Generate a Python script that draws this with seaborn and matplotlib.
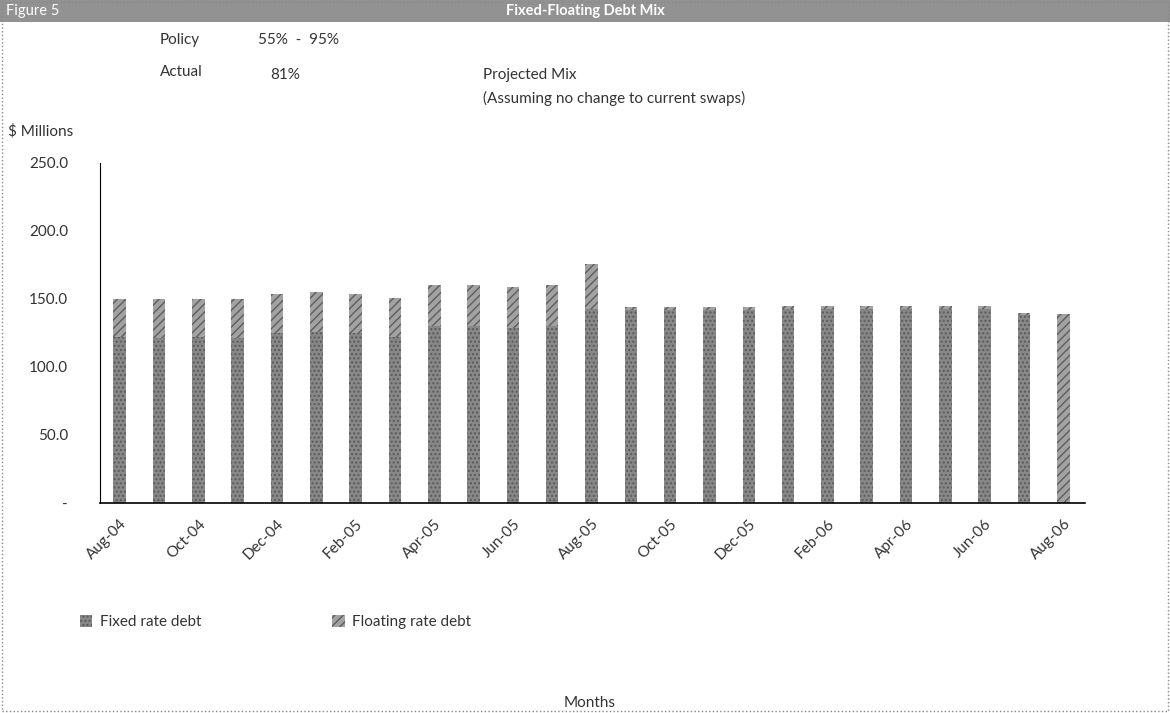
import matplotlib
matplotlib.use("Agg")
import matplotlib.pyplot as plt
import matplotlib.patches as mpatches
import seaborn as sns
import pandas as pd

months = ["Aug-04", "Sep-04", "Oct-04", "Nov-04", "Dec-04", "Jan-05", "Feb-05",
          "Mar-05", "Apr-05", "May-05", "Jun-05", "Jul-05", "Aug-05", "Sep-05",
          "Oct-05", "Nov-05", "Dec-05", "Jan-06", "Feb-06", "Mar-06", "Apr-06",
          "May-06", "Jun-06", "Jul-06", "Aug-06"]
fixed_rate = [122, 121, 122, 121, 125, 126, 125, 122, 130, 130, 129, 130, 143,
              142, 142, 142, 142, 143, 143, 143, 143, 143, 143, 138, 0]
floating_rate = [28, 29, 28, 29, 29, 29, 29, 29, 30, 30, 30, 30, 33,
                 2, 2, 2, 2, 2, 2, 2, 2, 2, 2, 2, 139]
yticks = [0, 50, 100, 150, 200, 250]
ytick_labels = ["-", "50.0", "100.0", "150.0", "200.0", "250.0"]

df = pd.DataFrame({"month": months, "fixed": fixed_rate, "floating": floating_rate})
df["total"] = df["fixed"] + df["floating"]

sns.set_style("white")
plt.rcParams["font.family"] = ["Lato", "DejaVu Sans"]
plt.rcParams["hatch.linewidth"] = 1.0

fig = plt.figure(figsize=(11.7, 7.13), dpi=100)
ax = fig.add_axes([100 / 1170, 1 - 503 / 713, 985 / 1170, 340 / 713])

bw = 0.32
fix_c, fix_e = "#888888", "#5a5a5a"
flt_c, flt_e = "#a2a2a2", "#5e5e5e"
sns.barplot(data=df, x="month", y="total", ax=ax, color=flt_c,
            width=bw, hatch="////", edgecolor=flt_e, linewidth=0,
            errorbar=None, saturation=1)
sns.barplot(data=df, x="month", y="fixed", ax=ax, color=fix_c,
            width=bw, hatch="....", edgecolor=fix_e, linewidth=0,
            errorbar=None, saturation=1)

ax.set_xlim(-0.5, 24.55)
ax.set_ylim(0, 250)
ax.set_yticks(yticks)
ax.set_yticklabels(ytick_labels, fontsize=11, color="#333333")
ax.set_xticks(range(0, len(months), 2))
ax.set_xticklabels(months[::2], rotation=45, ha="right", rotation_mode="anchor",
                   fontsize=11, color="#333333")
ax.set_xticks([i - 0.5 for i in range(0, len(months), 2)], minor=True)
ax.tick_params(axis="x", which="major", length=0, pad=10)
ax.tick_params(axis="x", which="minor", length=5, direction="out", color="black", width=0.8)
ax.tick_params(axis="y", length=5, direction="out", color="black", width=0.8, pad=18)
ax.set_xlabel("")
ax.set_ylabel("")
for s in ["top", "right"]:
    ax.spines[s].set_visible(False)
ax.spines["left"].set_color("black")
ax.spines["bottom"].set_color("black")
ax.spines["left"].set_linewidth(0.8)
ax.spines["bottom"].set_linewidth(1.2)

# title band and frame
fig.patches.append(mpatches.Rectangle((0, 1 - 22 / 713), 1, 22 / 713, transform=fig.transFigure,
                                      facecolor="#929292", edgecolor="none", zorder=0))
fig.patches.append(mpatches.Rectangle((2 / 1170, 2 / 713), 1 - 4 / 1170, 1 - 4 / 713,
                                      transform=fig.transFigure, facecolor="none",
                                      edgecolor="#888888", linestyle=":", linewidth=1))
fig.text(6 / 1170, 1 - 11 / 713, "Figure 5", color="white", fontsize=10.5, va="center")
fig.text(585 / 1170, 1 - 11 / 713, "Fixed-Floating Debt Mix", color="white", fontsize=10.5,
         va="center", ha="center", fontweight="bold")

tc = "#333333"
fig.text(160 / 1170, 1 - 40 / 713, "Policy", fontsize=11, color=tc, va="center")
fig.text(258 / 1170, 1 - 40 / 713, "55%  -  95%", fontsize=11, color=tc, va="center")
fig.text(160 / 1170, 1 - 72 / 713, "Actual", fontsize=11, color=tc, va="center")
fig.text(270 / 1170, 1 - 75 / 713, "81%", fontsize=11, color=tc, va="center")
fig.text(483 / 1170, 1 - 75 / 713, "Projected Mix", fontsize=11, color=tc, va="center")
fig.text(483 / 1170, 1 - 98 / 713, "(Assuming no change to current swaps)", fontsize=11,
         color=tc, va="center")
fig.text(8 / 1170, 1 - 131 / 713, "$ Millions", fontsize=11, color=tc, va="center")
fig.text(590 / 1170, 1 - 703 / 713, "Months", fontsize=11, color=tc, va="center", ha="center")

handles = [mpatches.Patch(facecolor=fix_c, hatch="....", edgecolor=fix_e, linewidth=0,
                          label="Fixed rate debt"),
           mpatches.Patch(facecolor=flt_c, hatch="////", edgecolor=flt_e, linewidth=0,
                          label="Floating rate debt")]
leg = fig.legend(handles=handles, loc="center left", bbox_to_anchor=(66 / 1170, 1 - 622 / 713),
                 ncol=2, frameon=False, fontsize=11, columnspacing=8.6, handlelength=0.8,
                 handleheight=0.8, handletextpad=0.5)
for t in leg.get_texts():
    t.set_color(tc)

fig.savefig("out.png", dpi=100)
